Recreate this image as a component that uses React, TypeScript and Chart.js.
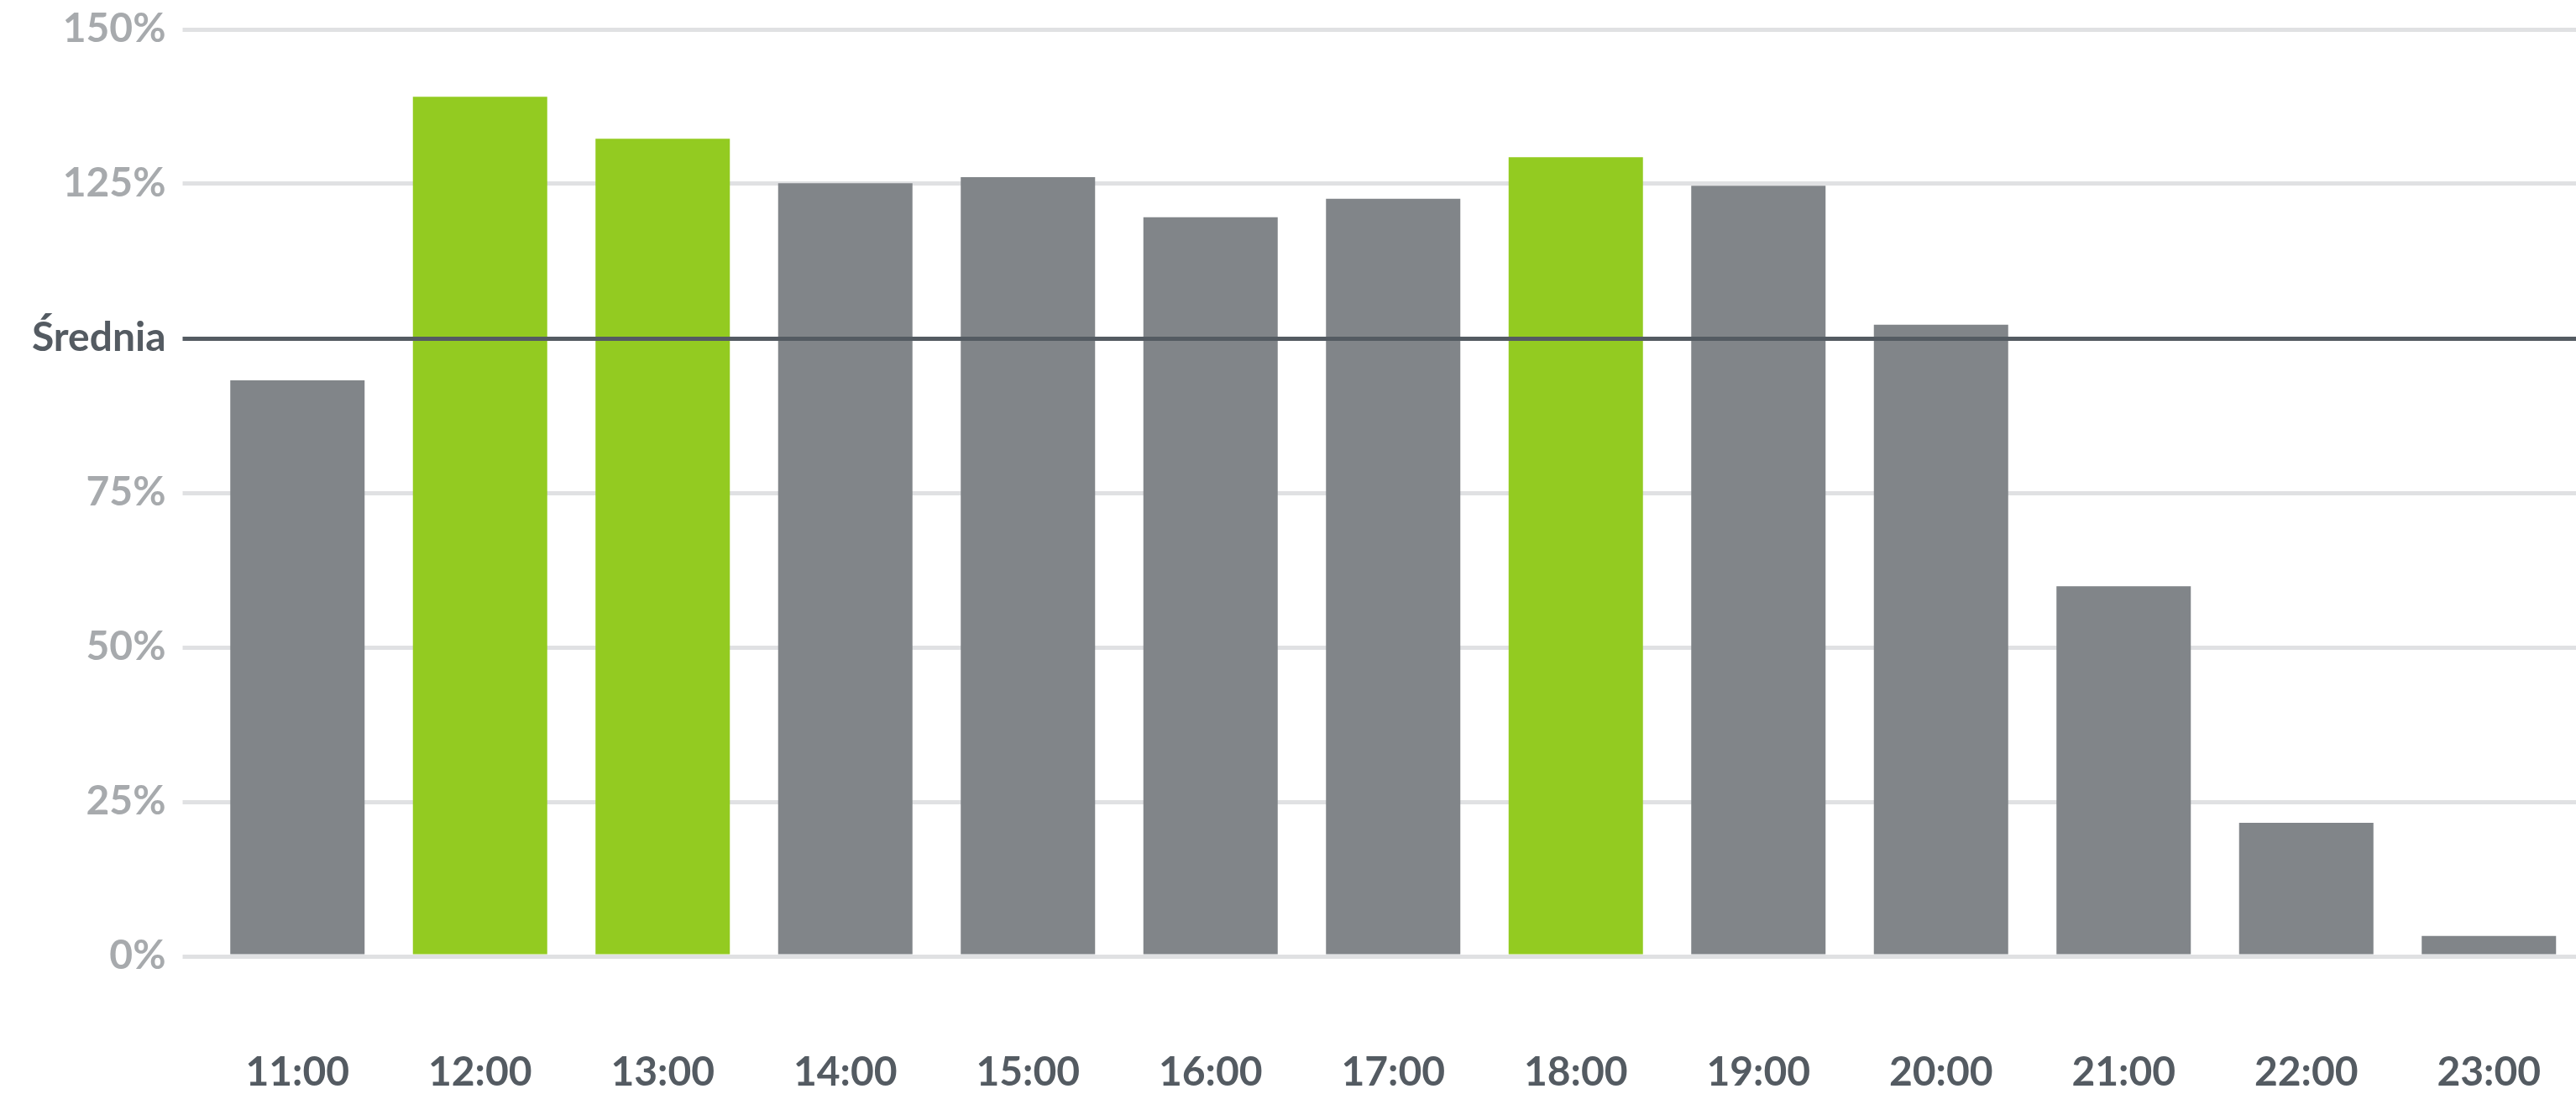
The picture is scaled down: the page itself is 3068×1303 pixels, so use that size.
import { useEffect, useRef } from "react";
import { Chart, registerables } from "chart.js";

Chart.register(...registerables);

// Hourly occupancy relative to the daily average (100%)
const HOURS = ["11:00", "12:00", "13:00", "14:00", "15:00", "16:00", "17:00", "18:00", "19:00", "20:00", "21:00", "22:00", "23:00"];
const OCCUPANCY = [93.2, 139.1, 132.3, 125.1, 126.1, 119.6, 122.6, 129.3, 124.7, 102.2, 59.9, 21.6, 3.3];
const PEAK_HOURS = ["12:00", "13:00", "18:00"];

const AVERAGE = 100;
const AVERAGE_LABEL = "Średnia";
const Y_MIN = 0;
const Y_MAX = 150;
const Y_STEP = 25;

const GRAY = "#818589";
const GREEN = "#93cb21";
const GRID = "#e0e1e3";
const DARK = "#545b62";
const LIGHT_TEXT = "#a7aaad";
const FONT_FAMILY = "Lato, 'Noto Sans', sans-serif";

const CANVAS_W = 3073;
const CANVAS_H = 1303;
const TICK_LEN = 28;
const LINE_W = 5;

// Dark reference line at the average, drawn above the bars
const averageLine = {
  id: "averageLine",
  afterDatasetsDraw(chart: any) {
    const { ctx, chartArea, scales } = chart;
    const y = Math.round(scales.y.getPixelForValue(AVERAGE)) + 0.5;
    ctx.save();
    ctx.strokeStyle = DARK;
    ctx.lineWidth = LINE_W;
    ctx.beginPath();
    ctx.moveTo(chartArea.left - TICK_LEN, y);
    ctx.lineTo(chart.width, y);
    ctx.stroke();
    ctx.restore();
  },
};

// Keep the plot area fixed: no extra room reserved for overhanging labels
function clearPadding(scale: any) {
  scale.paddingLeft = 0;
  scale.paddingRight = 0;
  scale.paddingTop = 0;
  scale.paddingBottom = 0;
}

export default function App() {
  const canvasRef = useRef<HTMLCanvasElement | null>(null);

  useEffect(() => {
    const canvas = canvasRef.current;
    if (!canvas) return;

    const chart = new Chart(canvas, {
      type: "bar",
      data: {
        labels: HOURS,
        datasets: [
          {
            data: OCCUPANCY,
            backgroundColor: HOURS.map((h) => (PEAK_HOURS.includes(h) ? GREEN : GRAY)),
            borderWidth: 0,
            categoryPercentage: 1,
            barPercentage: 0.7356,
          },
        ],
      },
      options: {
        responsive: false,
        animation: false,
        devicePixelRatio: 1,
        layout: { padding: { top: 35, left: 0, right: 0, bottom: 0 } },
        plugins: {
          legend: { display: false },
          tooltip: { enabled: false },
        },
        scales: {
          x: {
            grid: { display: false, drawTicks: false },
            border: { display: false },
            ticks: {
              color: DARK,
              padding: 110,
              font: { family: FONT_FAMILY, size: 48, weight: "bold" },
              maxRotation: 0,
              autoSkip: false,
            },
            afterFit(scale: any) {
              scale.height = 164;
              clearPadding(scale);
            },
          },
          y: {
            min: Y_MIN,
            max: Y_MAX,
            border: { display: false },
            grid: {
              color: (c: any) => (c.tick && c.tick.value === AVERAGE ? "rgba(0,0,0,0)" : GRID),
              lineWidth: LINE_W,
              tickLength: TICK_LEN,
              drawTicks: true,
            },
            ticks: {
              stepSize: Y_STEP,
              padding: 20,
              color: (c: any) => (c.tick && c.tick.value === AVERAGE ? DARK : LIGHT_TEXT),
              font: { family: FONT_FAMILY, size: 48, weight: "bold" },
              callback: (v: any) => (Number(v) === AVERAGE ? AVERAGE_LABEL : `${v}%`),
            },
            afterFit(scale: any) {
              scale.width = 245.5;
              clearPadding(scale);
            },
          },
        },
      },
      plugins: [averageLine],
    });

    let alive = true;
    if (document.fonts && document.fonts.load) {
      document.fonts.load(`bold 48px Lato`).then(() => {
        if (alive) chart.update();
      });
    }

    return () => {
      alive = false;
      chart.destroy();
    };
  }, []);

  return (
    <div
      style={{
        position: "fixed",
        left: 0,
        top: 0,
        width: 3068,
        height: CANVAS_H,
        overflow: "hidden",
        background: "#ffffff",
      }}
    >
      <canvas
        ref={canvasRef}
        width={CANVAS_W}
        height={CANVAS_H}
        style={{ display: "block", width: CANVAS_W, height: CANVAS_H }}
      />
    </div>
  );
}
